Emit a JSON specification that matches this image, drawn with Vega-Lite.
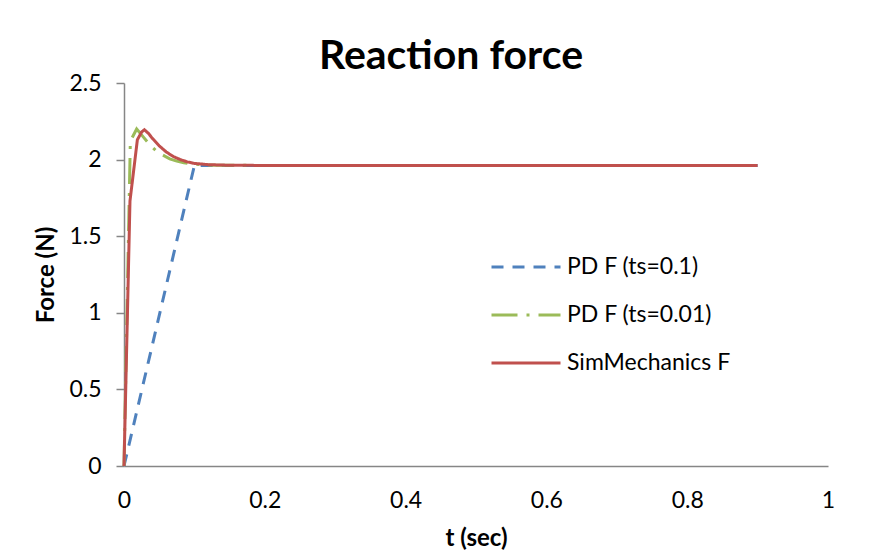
{
  "$schema": "https://vega.github.io/schema/vega-lite/v6.json",
  "width": 704,
  "height": 383,
  "autosize": {"type": "none"},
  "padding": {"left": 124, "top": 83, "right": 52, "bottom": 91},
  "background": "white",
  "title": {
    "text": "Reaction force",
    "font": "Lato",
    "fontSize": 41,
    "fontWeight": "bold",
    "color": "black",
    "baseline": "alphabetic",
    "offset": 14,
    "dx": -25,
    "dy": 52
  },
  "config": {
    "view": {"stroke": null},
    "font": "Lato"
  },
  "data": {
    "values": [
      {"t": 0, "F": 0, "s": "PD F (ts=0.1)"},
      {"t": 0.1, "F": 1.962, "s": "PD F (ts=0.1)"},
      {"t": 0.2, "F": 1.962, "s": "PD F (ts=0.1)"},
      {"t": 0.3, "F": 1.962, "s": "PD F (ts=0.1)"},
      {"t": 0.4, "F": 1.962, "s": "PD F (ts=0.1)"},
      {"t": 0.5, "F": 1.962, "s": "PD F (ts=0.1)"},
      {"t": 0.6, "F": 1.962, "s": "PD F (ts=0.1)"},
      {"t": 0.7, "F": 1.962, "s": "PD F (ts=0.1)"},
      {"t": 0.8, "F": 1.962, "s": "PD F (ts=0.1)"},
      {"t": 0.9, "F": 1.962, "s": "PD F (ts=0.1)"},
      {"t": 0, "F": 0, "s": "PD F (ts=0.01)"},
      {"t": 0.009, "F": 2.12, "s": "PD F (ts=0.01)"},
      {"t": 0.018, "F": 2.2, "s": "PD F (ts=0.01)"},
      {"t": 0.027, "F": 2.15, "s": "PD F (ts=0.01)"},
      {"t": 0.036, "F": 2.1, "s": "PD F (ts=0.01)"},
      {"t": 0.045, "F": 2.06, "s": "PD F (ts=0.01)"},
      {"t": 0.055, "F": 2.03, "s": "PD F (ts=0.01)"},
      {"t": 0.065, "F": 2.005, "s": "PD F (ts=0.01)"},
      {"t": 0.075, "F": 1.99, "s": "PD F (ts=0.01)"},
      {"t": 0.085, "F": 1.98, "s": "PD F (ts=0.01)"},
      {"t": 0.095, "F": 1.972, "s": "PD F (ts=0.01)"},
      {"t": 0.11, "F": 1.966, "s": "PD F (ts=0.01)"},
      {"t": 0.13, "F": 1.963, "s": "PD F (ts=0.01)"},
      {"t": 0.2, "F": 1.962, "s": "PD F (ts=0.01)"},
      {"t": 0.9, "F": 1.962, "s": "PD F (ts=0.01)"},
      {"t": 0, "F": 0, "s": "SimMechanics F"},
      {"t": 0.0085, "F": 1.73, "s": "SimMechanics F"},
      {"t": 0.019, "F": 2.13, "s": "SimMechanics F"},
      {"t": 0.025, "F": 2.18, "s": "SimMechanics F"},
      {"t": 0.029, "F": 2.195, "s": "SimMechanics F"},
      {"t": 0.035, "F": 2.17, "s": "SimMechanics F"},
      {"t": 0.04, "F": 2.14, "s": "SimMechanics F"},
      {"t": 0.05, "F": 2.09, "s": "SimMechanics F"},
      {"t": 0.06, "F": 2.05, "s": "SimMechanics F"},
      {"t": 0.07, "F": 2.02, "s": "SimMechanics F"},
      {"t": 0.08, "F": 2.0, "s": "SimMechanics F"},
      {"t": 0.09, "F": 1.985, "s": "SimMechanics F"},
      {"t": 0.1, "F": 1.975, "s": "SimMechanics F"},
      {"t": 0.12, "F": 1.967, "s": "SimMechanics F"},
      {"t": 0.15, "F": 1.963, "s": "SimMechanics F"},
      {"t": 0.2, "F": 1.962, "s": "SimMechanics F"},
      {"t": 0.9, "F": 1.962, "s": "SimMechanics F"}
    ]
  },
  "mark": {"type": "line", "strokeWidth": 3, "clip": false},
  "encoding": {
    "x": {
      "field": "t",
      "type": "quantitative",
      "scale": {"domain": [0, 1], "nice": false},
      "axis": {
        "title": "t (sec)",
        "values": [0, 0.2, 0.4, 0.6, 0.8, 1],
        "format": "~g",
        "grid": false,
        "ticks": false,
        "domainColor": "#868686",
        "domainWidth": 1.5,
        "labelFont": "Lato",
        "labelFontSize": 23,
        "labelColor": "black",
        "labelPadding": 23,
        "labelFlush": false,
        "titleFont": "Lato",
        "titleFontSize": 24,
        "titleFontWeight": "bold",
        "titleColor": "black",
        "titlePadding": 14
      }
    },
    "y": {
      "field": "F",
      "type": "quantitative",
      "scale": {"domain": [0, 2.5], "nice": false},
      "axis": {
        "title": "Force (N)",
        "values": [0, 0.5, 1, 1.5, 2, 2.5],
        "format": "~g",
        "grid": false,
        "ticks": true,
        "tickSize": 8,
        "tickColor": "#868686",
        "tickWidth": 1.5,
        "domainColor": "#868686",
        "domainWidth": 1.5,
        "labelFont": "Lato",
        "labelFontSize": 23,
        "labelColor": "black",
        "labelPadding": 15,
        "labelFlush": false,
        "titleFont": "Lato",
        "titleFontSize": 24,
        "titleFontWeight": "bold",
        "titleColor": "black",
        "titlePadding": 10
      }
    },
    "color": {
      "field": "s",
      "type": "nominal",
      "sort": ["PD F (ts=0.1)", "PD F (ts=0.01)", "SimMechanics F"],
      "scale": {
        "domain": ["PD F (ts=0.1)", "PD F (ts=0.01)", "SimMechanics F"],
        "range": ["#4F81BD", "#9BBB59", "#C0504D"]
      },
      "legend": {
        "title": null,
        "orient": "none",
        "legendX": 366,
        "legendY": 148,
        "symbolType": "stroke",
        "symbolSize": 4761,
        "symbolStrokeWidth": 3,
        "labelFont": "Lato",
        "labelFontSize": 23,
        "labelColor": "black",
        "labelOffset": 5,
        "labelLimit": 400,
        "rowPadding": 0
      }
    },
    "strokeDash": {
      "field": "s",
      "type": "nominal",
      "sort": ["PD F (ts=0.1)", "PD F (ts=0.01)", "SimMechanics F"],
      "scale": {
        "domain": ["PD F (ts=0.1)", "PD F (ts=0.01)", "SimMechanics F"],
        "range": [[12, 9], [26, 9, 3, 9], [1, 0]]
      },
      "legend": {
        "title": null,
        "orient": "none",
        "legendX": 366,
        "legendY": 148,
        "symbolType": "stroke",
        "symbolSize": 4761,
        "symbolStrokeWidth": 3,
        "labelFont": "Lato",
        "labelFontSize": 23,
        "labelColor": "black",
        "labelOffset": 5,
        "labelLimit": 400,
        "rowPadding": 0
      }
    }
  }
}
